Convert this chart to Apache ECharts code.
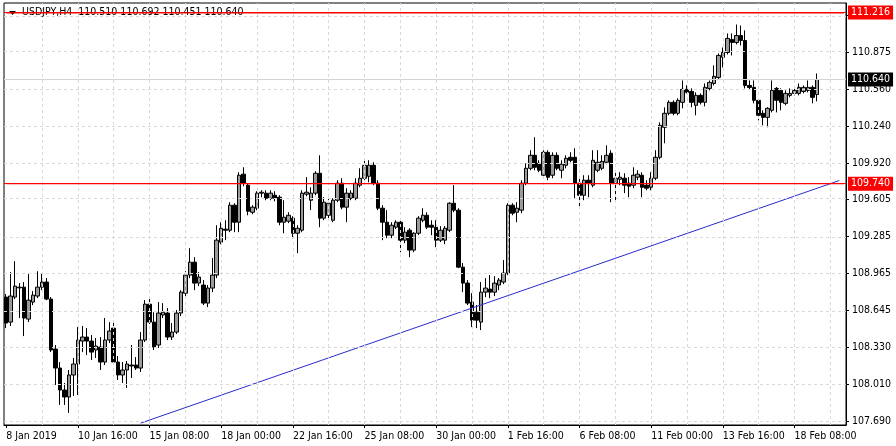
<!DOCTYPE html>
<html><head><meta charset="utf-8">
<script src="https://cdn.jsdelivr.net/npm/echarts@6/dist/echarts.min.js"></script>
<style>html,body{margin:0;padding:0;background:#fff}#c{width:896px;height:446px}</style>
</head><body><div id="c"></div>
<script>
// ---- data ----
const symbolName = "USDJPY,H4";
const opens = [108.760,108.544,108.760,108.846,108.846,108.570,108.717,108.769,108.846,108.890,
108.743,108.311,108.147,107.957,107.897,108.087,108.182,108.380,108.415,108.380,
108.303,108.328,108.199,108.389,108.492,108.199,108.087,108.130,108.173,108.173,
108.147,108.389,108.699,108.544,108.346,108.605,108.622,108.415,108.458,108.622,
108.794,108.950,109.062,108.881,108.864,108.708,108.838,108.950,109.235,109.347,
109.338,109.554,109.407,109.822,109.727,109.493,109.528,109.658,109.658,109.614,
109.640,109.623,109.407,109.416,109.442,109.312,109.338,109.649,109.597,109.658,
109.830,109.442,109.467,109.424,109.597,109.744,109.537,109.614,109.614,109.727,
109.787,109.804,109.899,109.744,109.528,109.407,109.295,109.364,109.407,109.252,
109.338,109.166,109.312,109.424,109.467,109.381,109.364,109.252,109.252,109.338,
109.571,109.511,109.019,108.881,108.717,108.630,108.544,108.803,108.829,108.803,
108.864,108.890,108.967,109.554,109.493,109.511,109.744,109.873,109.985,109.916,
109.813,110.011,109.813,109.985,109.856,109.899,109.968,109.968,109.744,109.640,
109.770,109.727,109.856,109.873,109.925,110.003,109.744,109.778,109.787,109.744,
109.727,109.796,109.813,109.727,109.709,109.787,109.968,110.227,110.348,110.443,
110.348,110.443,110.555,110.537,110.417,110.503,110.443,110.563,110.606,110.658,
110.831,110.874,110.986,110.960,111.020,110.977,110.589,110.572,110.460,110.348,
110.313,110.374,110.563,110.546,110.434,110.503,110.520,110.520,110.537,110.546,
110.572,110.510];
const highs = [108.786,108.976,109.071,108.881,108.890,108.959,108.812,108.984,108.967,108.924,
108.760,108.346,108.199,108.018,108.130,108.234,108.501,108.510,108.492,108.432,
108.406,108.415,108.579,108.544,108.561,108.251,108.199,108.208,108.346,108.242,
108.458,108.734,108.743,108.630,108.717,108.708,108.665,108.536,108.648,108.820,
108.984,109.183,109.105,108.976,108.907,108.864,109.097,109.381,109.407,109.424,
109.580,109.571,109.839,109.882,109.744,109.554,109.675,109.683,109.683,109.683,
109.675,109.640,109.597,109.493,109.459,109.381,109.683,109.796,109.709,109.848,
109.985,109.623,109.614,109.614,109.770,109.787,109.701,109.683,109.787,109.873,
109.942,109.942,109.925,109.770,109.554,109.511,109.407,109.424,109.424,109.364,
109.355,109.321,109.459,109.528,109.493,109.424,109.424,109.373,109.373,109.580,
109.727,109.528,109.054,108.907,108.794,108.691,108.890,108.924,108.950,108.941,
108.924,109.080,109.571,109.571,109.580,109.770,109.916,110.029,110.141,109.942,
110.029,110.029,110.011,110.011,109.942,109.985,110.011,110.046,109.787,109.813,
109.813,110.029,110.029,109.985,110.071,110.029,109.856,109.839,109.830,109.796,
109.882,109.856,109.839,109.770,109.839,110.029,110.270,110.399,110.460,110.460,
110.477,110.632,110.590,110.563,110.529,110.520,110.606,110.632,110.762,110.865,
110.917,111.038,111.038,111.115,111.107,111.064,110.632,110.632,110.477,110.374,
110.400,110.632,110.575,110.563,110.546,110.563,110.563,110.606,110.589,110.632,
110.589,110.692];
const lows = [108.492,108.510,108.743,108.579,108.423,108.544,108.691,108.751,108.820,108.734,
108.285,108.001,107.828,107.828,107.759,107.906,107.914,108.285,108.259,108.216,
108.234,108.130,108.173,108.363,108.182,108.044,108.018,107.975,108.061,108.130,
108.113,108.372,108.527,108.303,108.320,108.579,108.389,108.389,108.441,108.596,
108.769,108.924,108.820,108.855,108.691,108.674,108.803,108.924,109.217,109.252,
109.321,109.321,109.321,109.718,109.467,109.476,109.511,109.623,109.597,109.597,
109.588,109.381,109.312,109.399,109.269,109.140,109.321,109.631,109.511,109.640,
109.364,109.424,109.424,109.407,109.580,109.519,109.407,109.597,109.597,109.709,
109.770,109.752,109.727,109.511,109.252,109.269,109.269,109.347,109.148,109.226,
109.105,109.148,109.295,109.407,109.347,109.295,109.191,109.235,109.217,109.321,
109.493,109.010,108.803,108.691,108.501,108.492,108.475,108.760,108.751,108.769,
108.820,108.872,108.950,109.467,109.407,109.485,109.727,109.856,109.856,109.839,
109.787,109.770,109.787,109.856,109.787,109.873,109.925,109.614,109.537,109.597,
109.623,109.709,109.839,109.856,109.908,109.580,109.597,109.727,109.658,109.623,
109.701,109.770,109.623,109.683,109.683,109.770,109.951,110.089,110.331,110.331,
110.331,110.391,110.520,110.400,110.331,110.425,110.408,110.546,110.589,110.641,
110.744,110.856,110.848,110.943,110.934,110.563,110.555,110.434,110.287,110.244,
110.227,110.356,110.356,110.374,110.417,110.486,110.503,110.503,110.520,110.529,
110.434,110.451];
const closes = [108.536,108.769,108.855,108.840,108.579,108.734,108.777,108.846,108.890,108.743,
108.303,108.147,107.957,107.897,108.087,108.182,108.389,108.415,108.380,108.285,
108.337,108.199,108.389,108.467,108.199,108.087,108.130,108.182,108.165,108.147,
108.389,108.699,108.544,108.328,108.622,108.630,108.415,108.458,108.622,108.803,
108.950,109.062,108.881,108.933,108.708,108.838,108.950,109.252,109.355,109.338,
109.554,109.407,109.813,109.744,109.502,109.537,109.658,109.666,109.614,109.658,
109.614,109.407,109.450,109.467,109.312,109.355,109.658,109.666,109.658,109.830,
109.442,109.580,109.571,109.597,109.744,109.537,109.658,109.658,109.744,109.787,
109.899,109.899,109.744,109.528,109.407,109.295,109.381,109.407,109.252,109.321,
109.166,109.312,109.442,109.467,109.364,109.364,109.252,109.338,109.355,109.571,
109.511,109.019,108.881,108.708,108.561,108.561,108.803,108.838,108.803,108.881,
108.907,108.967,109.554,109.485,109.528,109.744,109.873,109.985,109.882,109.856,
110.011,109.796,109.985,109.873,109.908,109.959,109.942,109.744,109.640,109.770,
109.744,109.942,109.925,109.933,109.985,109.744,109.787,109.796,109.727,109.718,
109.813,109.822,109.709,109.701,109.787,109.968,110.244,110.348,110.443,110.348,
110.460,110.555,110.529,110.443,110.503,110.443,110.572,110.615,110.667,110.848,
110.874,110.995,110.960,111.020,110.977,110.589,110.572,110.460,110.331,110.313,
110.391,110.546,110.460,110.443,110.520,110.520,110.546,110.572,110.572,110.572,
110.486,110.640];
const xTickLabels = ["8 Jan 2019","10 Jan 16:00","15 Jan 08:00","18 Jan 00:00","22 Jan 16:00",
  "25 Jan 08:00","30 Jan 00:00","1 Feb 16:00","6 Feb 08:00","11 Feb 00:00","13 Feb 16:00","18 Feb 08:00"];
const yTickLabels = [107.690,108.010,108.330,108.645,108.965,109.285,109.605,109.920,110.240,110.560,110.875,111.195];
const levelLines = [111.216, 109.740];
const trendLine = [[30, 107.671],[186, 109.767]];

// ---- layout constants ----
const SLOTS = 188;          // bars + right chart shift
const BARS_PER_LABEL = 16;
const BARS_PER_GRID = 8;
const FONT = "'DejaVu Sans Condensed', 'DejaVu Sans', sans-serif";
const FS = 10.5;
const Y_MIN = 107.655, Y_MAX = 111.301;

const categories = [];
for (let i = 0; i < SLOTS; i++) categories.push(String(i));
const candles = opens.map((o, i) => [o, closes[i], lows[i], highs[i]]);
const last = opens.length - 1;
const lastPrice = closes[last];
const header = symbolName + '  ' + [opens[last], highs[last], lows[last], closes[last]].map(v => v.toFixed(3)).join(' ');

const vGrid = [];
for (let i = BARS_PER_GRID; i < SLOTS - 2; i += BARS_PER_GRID) vGrid.push({xAxis: String(i)});
const hGrid = yTickLabels.map(v => ({yAxis: v}));

const isLabelIdx = (i) => i % BARS_PER_LABEL === 0 && i / BARS_PER_LABEL < xTickLabels.length;

const boxLabel = (txt, bg) => ({show: true, position: 'end', distance: 2, formatter: txt,
  backgroundColor: bg, color: '#fff', padding: [2, 3, 1, 3], fontFamily: FONT, fontSize: FS});

// level lines: red horizontal line across the plot + label box on the price scale
const levelSeries = [];
levelLines.forEach(v => {
  levelSeries.push({
    type: 'line', data: [[0, v], [SLOTS - 1, v]], z: 10, silent: true, symbol: 'none',
    lineStyle: {color: '#ff0000', width: 1.3, type: 'solid'},
    markLine: {silent: true, symbol: 'none', animation: false,
      lineStyle: {color: '#ff0000', type: 'solid', width: 1},
      label: boxLabel(v.toFixed(3), '#ff0000'),
      data: [{yAxis: v}]}
  });
});

const chart = echarts.init(document.getElementById('c'), null, {renderer: 'canvas'});
chart.setOption({
  animation: false,
  backgroundColor: '#ffffff',
  grid: {left: 4, right: 50, top: 3, bottom: 21, show: true, borderColor: '#000', borderWidth: 1, backgroundColor: '#fff'},
  xAxis: {
    type: 'category', data: categories, boundaryGap: true,
    axisLine: {show: true, onZero: false, lineStyle: {color: '#000', width: 1}},
    axisTick: {show: true, alignWithLabel: true, interval: isLabelIdx, length: 3, lineStyle: {color: '#000'}},
    axisLabel: {interval: isLabelIdx, formatter: (v, i) => xTickLabels[Math.round(Number(v) / BARS_PER_LABEL)],
      align: 'left', color: '#000', fontFamily: FONT, fontSize: FS, margin: 6},
    splitLine: {show: false}
  },
  yAxis: {
    type: 'value', position: 'right', min: Y_MIN, max: Y_MAX, scale: true,
    axisLine: {show: true, onZero: false, lineStyle: {color: '#000', width: 1}},
    axisTick: {show: true, length: 3, customValues: yTickLabels, lineStyle: {color: '#000'}},
    axisLabel: {customValues: yTickLabels, formatter: v => Number(v).toFixed(3), color: '#000', fontFamily: FONT, fontSize: FS, margin: 6},
    splitLine: {show: false}
  },
  graphic: [
    {type: 'polygon', shape: {points: [[9, 11], [16, 11], [12.5, 15]]}, style: {fill: '#000'}, z: 10},
    {type: 'text', left: 22, top: 7, style: {text: header, fill: '#000', font: FS + 'px ' + FONT}, z: 10}
  ],
  series: [
    {
      type: 'line', data: [], z: 1, silent: true,
      markLine: {silent: true, symbol: 'none', animation: false, label: {show: false},
        lineStyle: {color: '#d9d9d9', type: [3, 3], width: 1},
        data: vGrid.concat(hGrid)}
    },
    {
      type: 'line', data: [], z: 1, silent: true,
      markLine: {silent: true, symbol: 'none', animation: false,
        lineStyle: {color: '#d4d4d4', type: 'solid', width: 1},
        label: boxLabel(lastPrice.toFixed(3), '#000'),
        data: [{yAxis: lastPrice}]}
    },
    {
      type: 'candlestick', data: candles, barWidth: 4, z: 3,
      itemStyle: {color: '#9a9a9a', color0: '#000', borderColor: '#000', borderColor0: '#000', borderWidth: 1}
    },
    {
      type: 'line', data: trendLine, z: 4, symbol: 'none', silent: true,
      lineStyle: {color: '#2a2ad0', width: 1}
    }
  ].concat(levelSeries)
});
</script></body></html>
